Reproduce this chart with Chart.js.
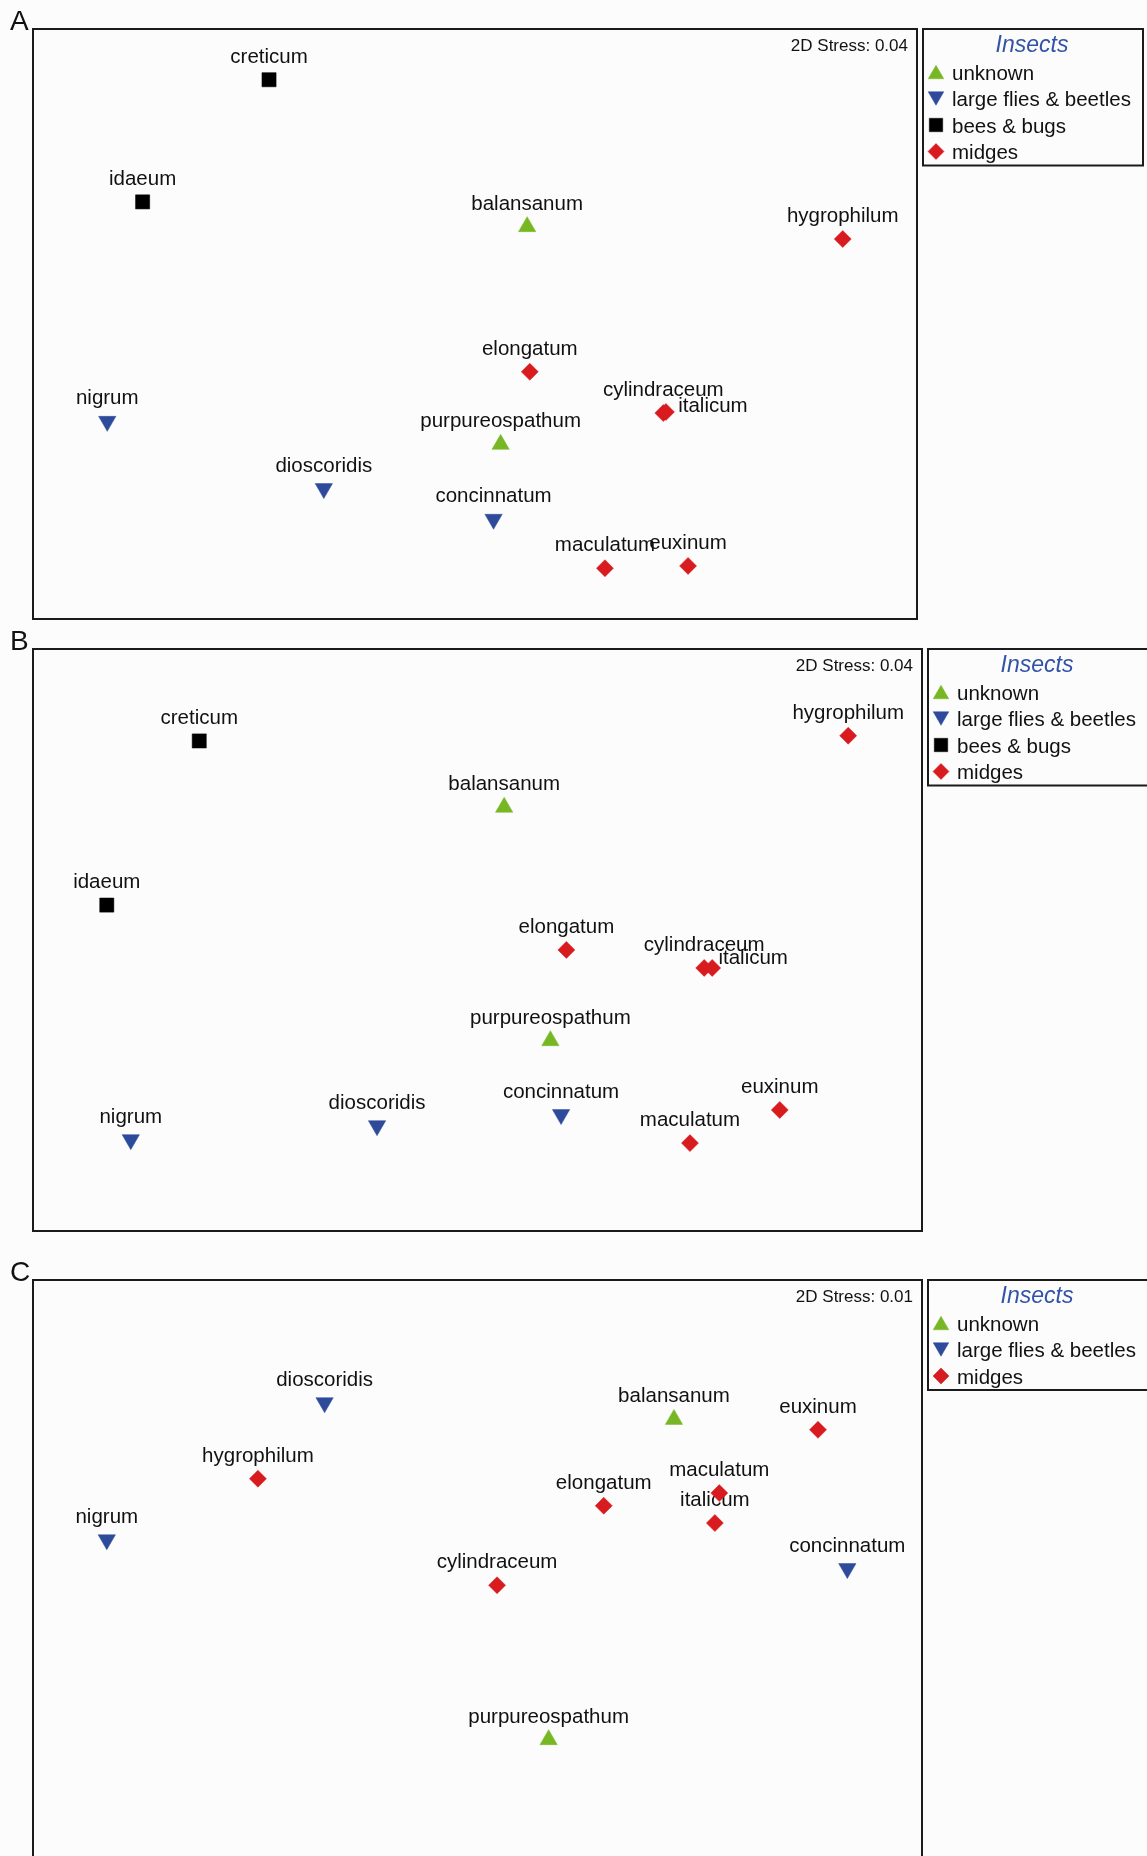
<!DOCTYPE html>
<html>
<head>
<meta charset="utf-8">
<title>Arum NMDS ordinations by pollinator group</title>
<script src="https://cdn.jsdelivr.net/npm/chart.js@4.4.1/dist/chart.umd.min.js"></script>
<style>
  html, body { margin: 0; padding: 0; background: #fcfcfc; }
  #wrap { position: relative; width: 1147px; height: 1856px; overflow: hidden; }
  canvas { position: absolute; left: 0; }
</style>
</head>
<body>
<div id="wrap">
  <canvas id="panelA" width="1147" height="625" style="top:0px"></canvas>
  <canvas id="panelB" width="1147" height="615" style="top:625px"></canvas>
  <canvas id="panelC" width="1147" height="616" style="top:1240px"></canvas>
</div>
<script>
// Arum species and the insect group that pollinates each one
const species = ['balansanum', 'purpureospathum', 'nigrum', 'dioscoridis', 'concinnatum',
                 'creticum', 'idaeum', 'hygrophilum', 'elongatum', 'cylindraceum',
                 'italicum', 'maculatum', 'euxinum'];
const pollinator = ['unknown', 'unknown', 'large flies & beetles', 'large flies & beetles',
                    'large flies & beetles', 'bees & bugs', 'bees & bugs', 'midges', 'midges',
                    'midges', 'midges', 'midges', 'midges'];
const groups = ['unknown', 'large flies & beetles', 'bees & bugs', 'midges'];

// NMDS scores, rescaled to 0-100 across each plot frame (null = species not in that analysis)
const xA = [55.9, 52.9,  8.4, 32.9, 52.1, 26.7, 12.4, 91.6, 56.2, 71.3, 71.6, 64.7, 74.1];
const yA = [66.5, 29.6, 33.5, 22.1, 16.9, 91.4, 70.7, 64.4, 41.9, 34.9, 35.1,  8.6,  9.0];

const xB = [53.0, 58.2, 11.0, 38.7, 59.4, 18.7,  8.3, 91.7, 60.0, 75.5, 76.4, 73.9, 84.0];
const yB = [72.8, 32.7, 15.7, 18.1, 20.0, 84.2, 56.0, 85.1, 48.3, 45.2, 45.2, 15.1, 20.8];

const xC = [72.1, 58.0,  8.3, 32.8, 91.6, null, null, 25.3, 64.2, 52.2, 76.7, 77.2, 88.3];
const yC = [75.8, 20.2, 54.9, 78.7, 49.9, null, null, 65.5, 60.8, 47.0, 57.8, 63.0, 74.0];

const stressLabels = ['2D Stress: 0.04', '2D Stress: 0.04', '2D Stress: 0.01'];
const panelLetters = ['A', 'B', 'C'];

// Marker look for each insect group
const groupStyle = {
  'unknown':               { shape: 'triangle', rot: 0,   color: '#78b724', r: 10,  lr: 9 },
  'large flies & beetles': { shape: 'triangle', rot: 180, color: '#2e4b9b', r: 10,  lr: 9 },
  'bees & bugs':           { shape: 'rect',     rot: 0,   color: '#000000', r: 10,  lr: 9.5 },
  'midges':                { shape: 'rectRot',  rot: 0,   color: '#d81b1f', r: 8.5, lr: 8 }
};

const FONT = '"Liberation Sans", Arial, Helvetica, sans-serif';

function buildDatasets(xs, ys) {
  return groups.map(g => {
    const st = groupStyle[g];
    const pts = [];
    species.forEach((name, i) => {
      if (pollinator[i] === g && xs[i] !== null) pts.push({ x: xs[i], y: ys[i], name: name });
    });
    return {
      label: g,
      data: pts,
      pointStyle: st.shape,
      pointRotation: st.rot,
      pointRadius: st.r,
      pointHoverRadius: st.r,
      pointBackgroundColor: st.color,
      pointBorderColor: st.color,
      pointBorderWidth: 0.5,
      showLine: false
    };
  }).filter(ds => ds.data.length > 0);
}

function drawMarker(ctx, st, x, y, r) {
  const opts = { pointStyle: st.shape, rotation: st.rot, radius: r, borderWidth: 0.5 };
  ctx.fillStyle = st.color;
  ctx.strokeStyle = st.color;
  ctx.lineWidth = 0.5;
  if (Chart.helpers && Chart.helpers.drawPoint) {
    Chart.helpers.drawPoint(ctx, opts, x, y);
    return;
  }
  ctx.beginPath();
  if (st.shape === 'triangle') {
    let a = st.rot * Math.PI / 180;
    for (let k = 0; k < 3; k++) {
      const px = x + Math.sin(a) * r, py = y - Math.cos(a) * r;
      k === 0 ? ctx.moveTo(px, py) : ctx.lineTo(px, py);
      a += 2 * Math.PI / 3;
    }
  } else if (st.shape === 'rect') {
    const s = Math.SQRT1_2 * r;
    ctx.rect(x - s, y - s, 2 * s, 2 * s);
  } else {
    ctx.moveTo(x - r, y); ctx.lineTo(x, y - r); ctx.lineTo(x + r, y); ctx.lineTo(x, y + r);
  }
  ctx.closePath();
  ctx.fill();
}

// Species names above markers, frame, stress value, panel letter and legend box
const ordinationDecor = {
  id: 'ordinationDecor',
  beforeDatasetsDraw(chart, args, opts) {
    const ctx = chart.ctx;
    ctx.save();
    ctx.font = '20.5px ' + FONT;
    ctx.fillStyle = '#111';
    ctx.textAlign = 'center';
    ctx.textBaseline = 'alphabetic';
    chart.data.datasets.forEach((ds, i) => {
      chart.getDatasetMeta(i).data.forEach((el, j) => {
        const name = ds.data[j].name;
        const n = (opts.nudge && opts.nudge[name]) || [0, 0];
        ctx.fillText(name, el.x + n[0], el.y - 17 + n[1]);
      });
    });
    ctx.restore();
  },
  afterDraw(chart, args, opts) {
    const ctx = chart.ctx;
    const a = chart.chartArea;
    ctx.save();

    // plot frame
    ctx.strokeStyle = '#1b1b1b';
    ctx.lineWidth = 2;
    ctx.beginPath();
    if (opts.openBottom) {
      ctx.moveTo(a.left, a.bottom + 5);
      ctx.lineTo(a.left, a.top);
      ctx.lineTo(a.right, a.top);
      ctx.lineTo(a.right, a.bottom + 5);
    } else {
      ctx.rect(a.left, a.top, a.right - a.left, a.bottom - a.top);
    }
    ctx.stroke();

    // stress value
    ctx.fillStyle = '#111';
    ctx.font = '17px ' + FONT;
    ctx.textAlign = 'right';
    ctx.textBaseline = 'alphabetic';
    ctx.fillText(opts.stress, a.right - 9, a.top + 22);

    // panel letter
    ctx.font = '28px ' + FONT;
    ctx.textAlign = 'left';
    ctx.fillText(opts.letter, 10, a.top + 1);

    // legend
    const present = chart.data.datasets.map(ds => ds.label);
    const lx = a.right + 6;
    const lw = opts.legendWidth;
    const lh = 52.5 + 26.5 * (present.length - 1) + 4.5;
    ctx.strokeStyle = '#1b1b1b';
    ctx.lineWidth = 2;
    ctx.strokeRect(lx, a.top, lw, lh);

    ctx.fillStyle = '#3353a8';
    ctx.font = 'italic 23px ' + FONT;
    ctx.textAlign = 'center';
    ctx.fillText('Insects', a.right + 115, a.top + 23);

    ctx.font = '20.5px ' + FONT;
    ctx.textAlign = 'left';
    present.forEach((g, i) => {
      const base = a.top + 50.5 + 26.5 * i;
      const st = groupStyle[g];
      let my = base - 7.5;
      if (st.shape === 'triangle') my += (st.rot === 0 ? 1 : -1) * st.lr / 4;
      drawMarker(ctx, st, a.right + 19, my, st.lr);
      ctx.fillStyle = '#111';
      ctx.fillText(g, a.right + 35, base);
    });
    ctx.restore();
  }
};

const panels = [
  { id: 'panelA', xs: xA, ys: yA, stress: stressLabels[0], letter: panelLetters[0],
    pad: { left: 33, top: 29, right: 230, bottom: 6 }, openBottom: false, legendWidth: 220,
    nudge: { italicum: [47, 17.5] } },
  { id: 'panelB', xs: xB, ys: yB, stress: stressLabels[1], letter: panelLetters[1],
    pad: { left: 33, top: 24, right: 225, bottom: 9 }, openBottom: false, legendWidth: 240,
    nudge: { italicum: [41, 13.5] } },
  { id: 'panelC', xs: xC, ys: yC, stress: stressLabels[2], letter: panelLetters[2],
    pad: { left: 33, top: 40, right: 225, bottom: 0 }, openBottom: true, legendWidth: 240,
    nudge: {} }
];

panels.forEach(p => {
  new Chart(document.getElementById(p.id), {
    type: 'scatter',
    data: { datasets: buildDatasets(p.xs, p.ys) },
    options: {
      responsive: false,
      animation: false,
      events: [],
      layout: { padding: p.pad, autoPadding: false },
      scales: {
        x: { type: 'linear', min: 0, max: 100, display: false },
        y: { type: 'linear', min: 0, max: 100, display: false }
      },
      plugins: {
        legend: { display: false },
        tooltip: { enabled: false },
        ordinationDecor: { stress: p.stress, letter: p.letter, openBottom: p.openBottom,
                           legendWidth: p.legendWidth, nudge: p.nudge }
      }
    },
    plugins: [ordinationDecor]
  });
});
</script>
</body>
</html>
